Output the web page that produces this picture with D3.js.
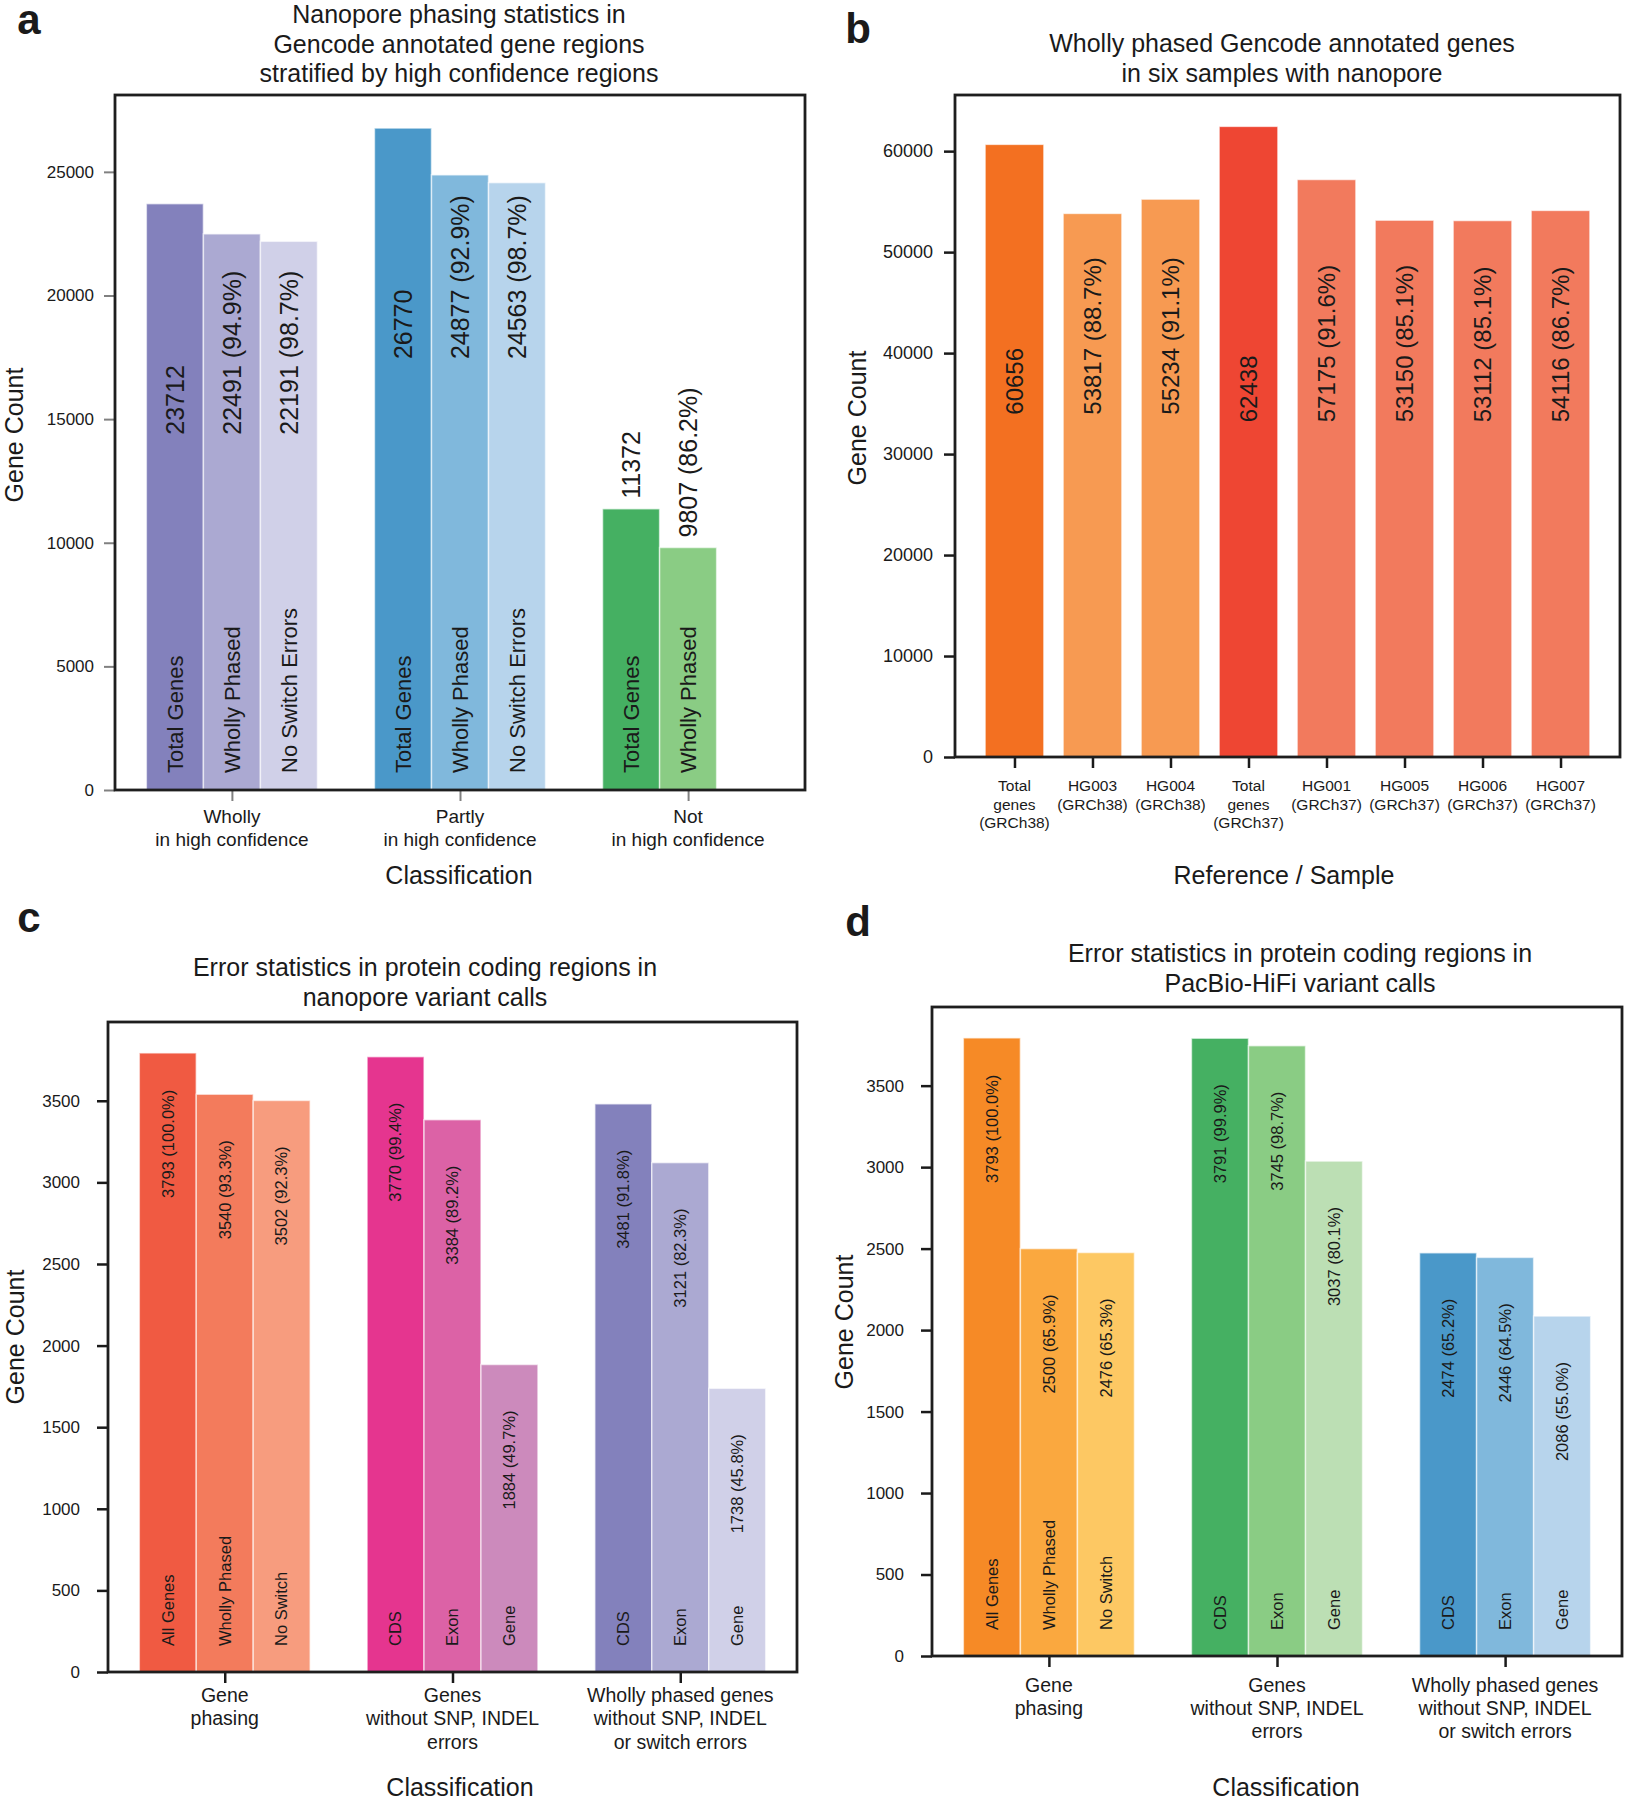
<!DOCTYPE html>
<html><head><meta charset="utf-8">
<script src="https://cdn.jsdelivr.net/npm/d3@7"></script>
<style>
body{margin:0;background:#fff}
svg{display:block}
text{font-family:"Liberation Sans",Arial,Helvetica,sans-serif;fill:#1a1a1a}
</style>
</head><body>
<svg id="chart" width="1627" height="1800"></svg>
<script>
// ---------------- DATA ----------------
// Panel a
const aCategories = ["Wholly\nin high confidence", "Partly\nin high confidence", "Not\nin high confidence"];
const aSeries = ["Total Genes", "Wholly Phased", "No Switch Errors"];
const aTotalGenes = [23712, 26770, 11372];
const aWhollyPhased = [22491, 24877, 9807];
const aNoSwitchErrors = [22191, 24563, null];
const aTicks = [0, 5000, 10000, 15000, 20000, 25000];

// Panel b
const bCategories = ["Total\ngenes\n(GRCh38)", "HG003\n(GRCh38)", "HG004\n(GRCh38)", "Total\ngenes\n(GRCh37)",
                     "HG001\n(GRCh37)", "HG005\n(GRCh37)", "HG006\n(GRCh37)", "HG007\n(GRCh37)"];
const bValues = [60656, 53817, 55234, 62438, 57175, 53150, 53112, 54116];
const bReferenceIndex = [0, 0, 0, 3, 3, 3, 3, 3];
const bTicks = [0, 10000, 20000, 30000, 40000, 50000, 60000];

// Panel c / d
const cdCategories = ["Gene\nphasing", "Genes\nwithout SNP, INDEL\nerrors", "Wholly phased genes\nwithout SNP, INDEL\nor switch errors"];
const cdBarLabels = [["All Genes", "Wholly Phased", "No Switch"], ["CDS", "Exon", "Gene"], ["CDS", "Exon", "Gene"]];
const cdTotalGenes = 3793;
const cGenePhasing = [3793, 3540, 3502];
const cNoSnpIndel = [3770, 3384, 1884];
const cWhollyNoErrors = [3481, 3121, 1738];
const dGenePhasing = [3793, 2500, 2476];
const dNoSnpIndel = [3791, 3745, 3037];
const dWhollyNoErrors = [2474, 2446, 2086];
const cdTicks = [0, 500, 1000, 1500, 2000, 2500, 3000, 3500];

// ---------------- STYLES ----------------
const aColors = [["#8381bc", "#aba9d2", "#d0d0e8"], ["#4a98c9", "#80b8dc", "#b7d4ec"], ["#45b062", "#8acc84", "#cccccc"]];
const bColors = ["#f37021", "#f79a52", "#f79a52", "#ee4633", "#f27a5d", "#f27a5d", "#f27a5d", "#f27a5d"];
const cColors = [["#f05a42", "#f37b5c", "#f79c7e"], ["#e5358f", "#dc62a6", "#cc8abc"], ["#8381bc", "#aba9d2", "#d0d0e8"]];
const dColors = [["#f68a26", "#faa83f", "#fdc863"], ["#45b062", "#8acc84", "#bcdfb4"], ["#4a98c9", "#80b8dc", "#b7d4ec"]];

const svg = d3.select("#chart");
const pct = d3.format(".1f");
const FRAME = "#1e1e1e";

function multiLine(sel, str, x, y0, lh, size, anchor) {
  const t = sel.append("text").attr("x", x).attr("y", y0).attr("font-size", size)
    .attr("text-anchor", anchor || "middle");
  str.split("\n").forEach((s, i) => {
    t.append("tspan").attr("x", x).attr("dy", i === 0 ? 0 : lh).text(s);
  });
  return t;
}

function rotText(sel, x, y, str, size) {
  sel.append("text")
    .attr("transform", `translate(${x},${y}) rotate(-90)`)
    .attr("text-anchor", "start").attr("dy", "0.35em")
    .attr("font-size", size).text(str);
}

function drawPanel(p) {
  const g = svg.append("g");
  const x = d3.scaleLinear().domain(p.xDomain).range([p.left, p.right]);
  const yMax = d3.max(p.bars, d => d.value) * 1.05;
  const y = d3.scaleLinear().domain([0, yMax]).range([p.bottom, p.top]);
  const bw = x(p.barWidth) - x(0);

  g.selectAll("rect.bar").data(p.bars).join("rect").attr("class", "bar")
    .attr("x", d => x(d.pos) - bw / 2).attr("width", bw)
    .attr("y", d => y(d.value)).attr("height", d => y(0) - y(d.value))
    .attr("fill", d => d.color).attr("stroke", "#fff").attr("stroke-width", p.edge)
    .attr("stroke-opacity", 0.6);

  // labels in bars
  p.bars.forEach(d => {
    if (d.num) rotText(g, x(d.pos), p.numAnchor(d, y), d.num, p.numFont);
    if (d.cat) rotText(g, x(d.pos), p.bottom - p.catOffset, d.cat, p.catFont);
  });

  // y axis
  const ya = g.append("g").attr("transform", `translate(${p.left},0)`)
    .call(d3.axisLeft(y).tickValues(p.ticks).tickSize(p.tickLen).tickPadding(p.tickPad).tickFormat(d3.format("d")));
  ya.select(".domain").remove();
  ya.selectAll("line").attr("stroke", p.tickColor).attr("stroke-width", p.tickW);
  ya.selectAll("text").attr("font-size", p.tickFont).attr("fill", "#1a1a1a")
    .attr("font-family", '"Liberation Sans",Arial,sans-serif');

  // x axis
  const xa = g.append("g").attr("transform", `translate(0,${p.bottom})`)
    .call(d3.axisBottom(x).tickValues(p.catPos).tickSize(p.tickLen).tickFormat(""));
  xa.select(".domain").remove();
  xa.selectAll("line").attr("stroke", p.tickColor).attr("stroke-width", p.tickW);
  p.categories.forEach((c, i) => {
    multiLine(g, c, x(p.catPos[i]), p.bottom + p.xlabOff, p.xlabLH, p.xlabFont);
  });

  // frame
  g.append("rect").attr("x", p.left).attr("y", p.top)
    .attr("width", p.right - p.left).attr("height", p.bottom - p.top)
    .attr("fill", "none").attr("stroke", FRAME).attr("stroke-width", 2.8);

  // title
  multiLine(g, p.title, p.titleX, p.titleY, 29.5, 25);
  // axis titles
  g.append("text").attr("x", p.xTitleX).attr("y", p.xTitleY).attr("text-anchor", "middle")
    .attr("font-size", 25).text(p.xTitle);
  g.append("text").attr("transform", `translate(${p.yTitleX},${p.yTitleY}) rotate(-90)`)
    .attr("text-anchor", "middle").attr("font-size", 25).text("Gene Count");
  // panel letter
  g.append("text").attr("x", p.letterX).attr("y", p.letterY).attr("text-anchor", "middle")
    .attr("font-size", 42).attr("font-weight", "bold").attr("fill", "#111").text(p.letter);
}

// ---------- Panel a ----------
const aBars = [];
aCategories.forEach((c, i) => {
  const vals = [aTotalGenes[i], aWhollyPhased[i], aNoSwitchErrors[i]];
  vals.forEach((v, k) => {
    if (v == null) return;
    let num = String(v);
    if (k === 1) num += ` (${pct(v / aTotalGenes[i] * 100)}%)`;
    if (k === 2) num += ` (${pct(v / aWhollyPhased[i] * 100)}%)`;
    aBars.push({group: i, k, pos: i + (k - 1) * 0.25, value: v, color: aColors[i][k], num, cat: aSeries[k], total: aTotalGenes[i]});
  });
});
drawPanel({
  letter: "a", letterX: 29, letterY: 34,
  left: 115, right: 805, top: 95, bottom: 790,
  xDomain: [-0.5125, 2.5125], barWidth: 0.25, edge: 1.5,
  bars: aBars, ticks: aTicks, catPos: [0, 1, 2], categories: aCategories,
  tickLen: 11, tickPad: 10, tickColor: "#808080", tickW: 2, tickFont: 17,
  xlabOff: 33, xlabLH: 23, xlabFont: 19,
  numFont: 25, catFont: 22, catOffset: 17,
  numAnchor: (d, y) => d.group === 2 ? y(d.value) - 10 : y(d.total) + 231,
  title: "Nanopore phasing statistics in\nGencode annotated gene regions\nstratified by high confidence regions",
  titleX: 459, titleY: 23,
  xTitle: "Classification", xTitleX: 459, xTitleY: 884,
  yTitleX: 23, yTitleY: 435
});

// ---------- Panel b ----------
const bAnchorValue = [33900, 33150];
const bBars = bValues.map((v, i) => {
  const ref = bReferenceIndex[i];
  const num = ref === i ? String(v) : `${v} (${pct(v / bValues[ref] * 100)}%)`;
  return {pos: i, value: v, color: bColors[i], num, set: ref === 0 ? 0 : 1};
});
drawPanel({
  letter: "b", letterX: 858, letterY: 43,
  left: 955, right: 1620, top: 95, bottom: 757,
  xDomain: [-0.7625, 7.7625], barWidth: 0.75, edge: 1.2,
  bars: bBars, ticks: bTicks, catPos: d3.range(8), categories: bCategories,
  tickLen: 11, tickPad: 11, tickColor: "#1a1a1a", tickW: 2.5, tickFont: 18,
  xlabOff: 34, xlabLH: 18.5, xlabFont: 15.5,
  numFont: 24, catFont: 22, catOffset: 17,
  numAnchor: (d, y) => y(bAnchorValue[d.set]),
  title: "Wholly phased Gencode annotated genes\nin six samples with nanopore",
  titleX: 1282, titleY: 52,
  xTitle: "Reference / Sample", xTitleX: 1284, xTitleY: 884,
  yTitleX: 866, yTitleY: 418
});

// ---------- Panels c, d ----------
function cdBars(groups, colors) {
  const out = [];
  groups.forEach((vals, i) => vals.forEach((v, k) => {
    out.push({pos: i + (k - 1) * 0.25, value: v, color: colors[i][k],
      num: `${v} (${pct(v / cdTotalGenes * 100)}%)`, cat: cdBarLabels[i][k]});
  }));
  return out;
}
drawPanel({
  letter: "c", letterX: 29, letterY: 932,
  left: 108, right: 797, top: 1022, bottom: 1672,
  xDomain: [-0.5125, 2.5125], barWidth: 0.25, edge: 1.5,
  bars: cdBars([cGenePhasing, cNoSnpIndel, cWhollyNoErrors], cColors),
  ticks: cdTicks, catPos: [0, 1, 2], categories: cdCategories,
  tickLen: 11, tickPad: 17, tickColor: "#1a1a1a", tickW: 2.5, tickFont: 17,
  xlabOff: 30, xlabLH: 23.4, xlabFont: 19.5,
  numFont: 16.5, catFont: 16.5, catOffset: 26,
  numAnchor: (d, y) => y(d.value) + 145,
  title: "Error statistics in protein coding regions in\nnanopore variant calls",
  titleX: 425, titleY: 976,
  xTitle: "Classification", xTitleX: 460, xTitleY: 1796,
  yTitleX: 24, yTitleY: 1337
});
drawPanel({
  letter: "d", letterX: 858, letterY: 936,
  left: 932, right: 1622, top: 1007, bottom: 1656,
  xDomain: [-0.5125, 2.5125], barWidth: 0.25, edge: 1.5,
  bars: cdBars([dGenePhasing, dNoSnpIndel, dWhollyNoErrors], dColors),
  ticks: cdTicks, catPos: [0, 1, 2], categories: cdCategories,
  tickLen: 11, tickPad: 17, tickColor: "#1a1a1a", tickW: 2.5, tickFont: 17,
  xlabOff: 36, xlabLH: 23, xlabFont: 19.5,
  numFont: 16.5, catFont: 16.5, catOffset: 26,
  numAnchor: (d, y) => y(d.value) + 145,
  title: "Error statistics in protein coding regions in\nPacBio-HiFi variant calls",
  titleX: 1300, titleY: 962,
  xTitle: "Classification", xTitleX: 1286, xTitleY: 1796,
  yTitleX: 853, yTitleY: 1322
});
</script>
</body></html>
